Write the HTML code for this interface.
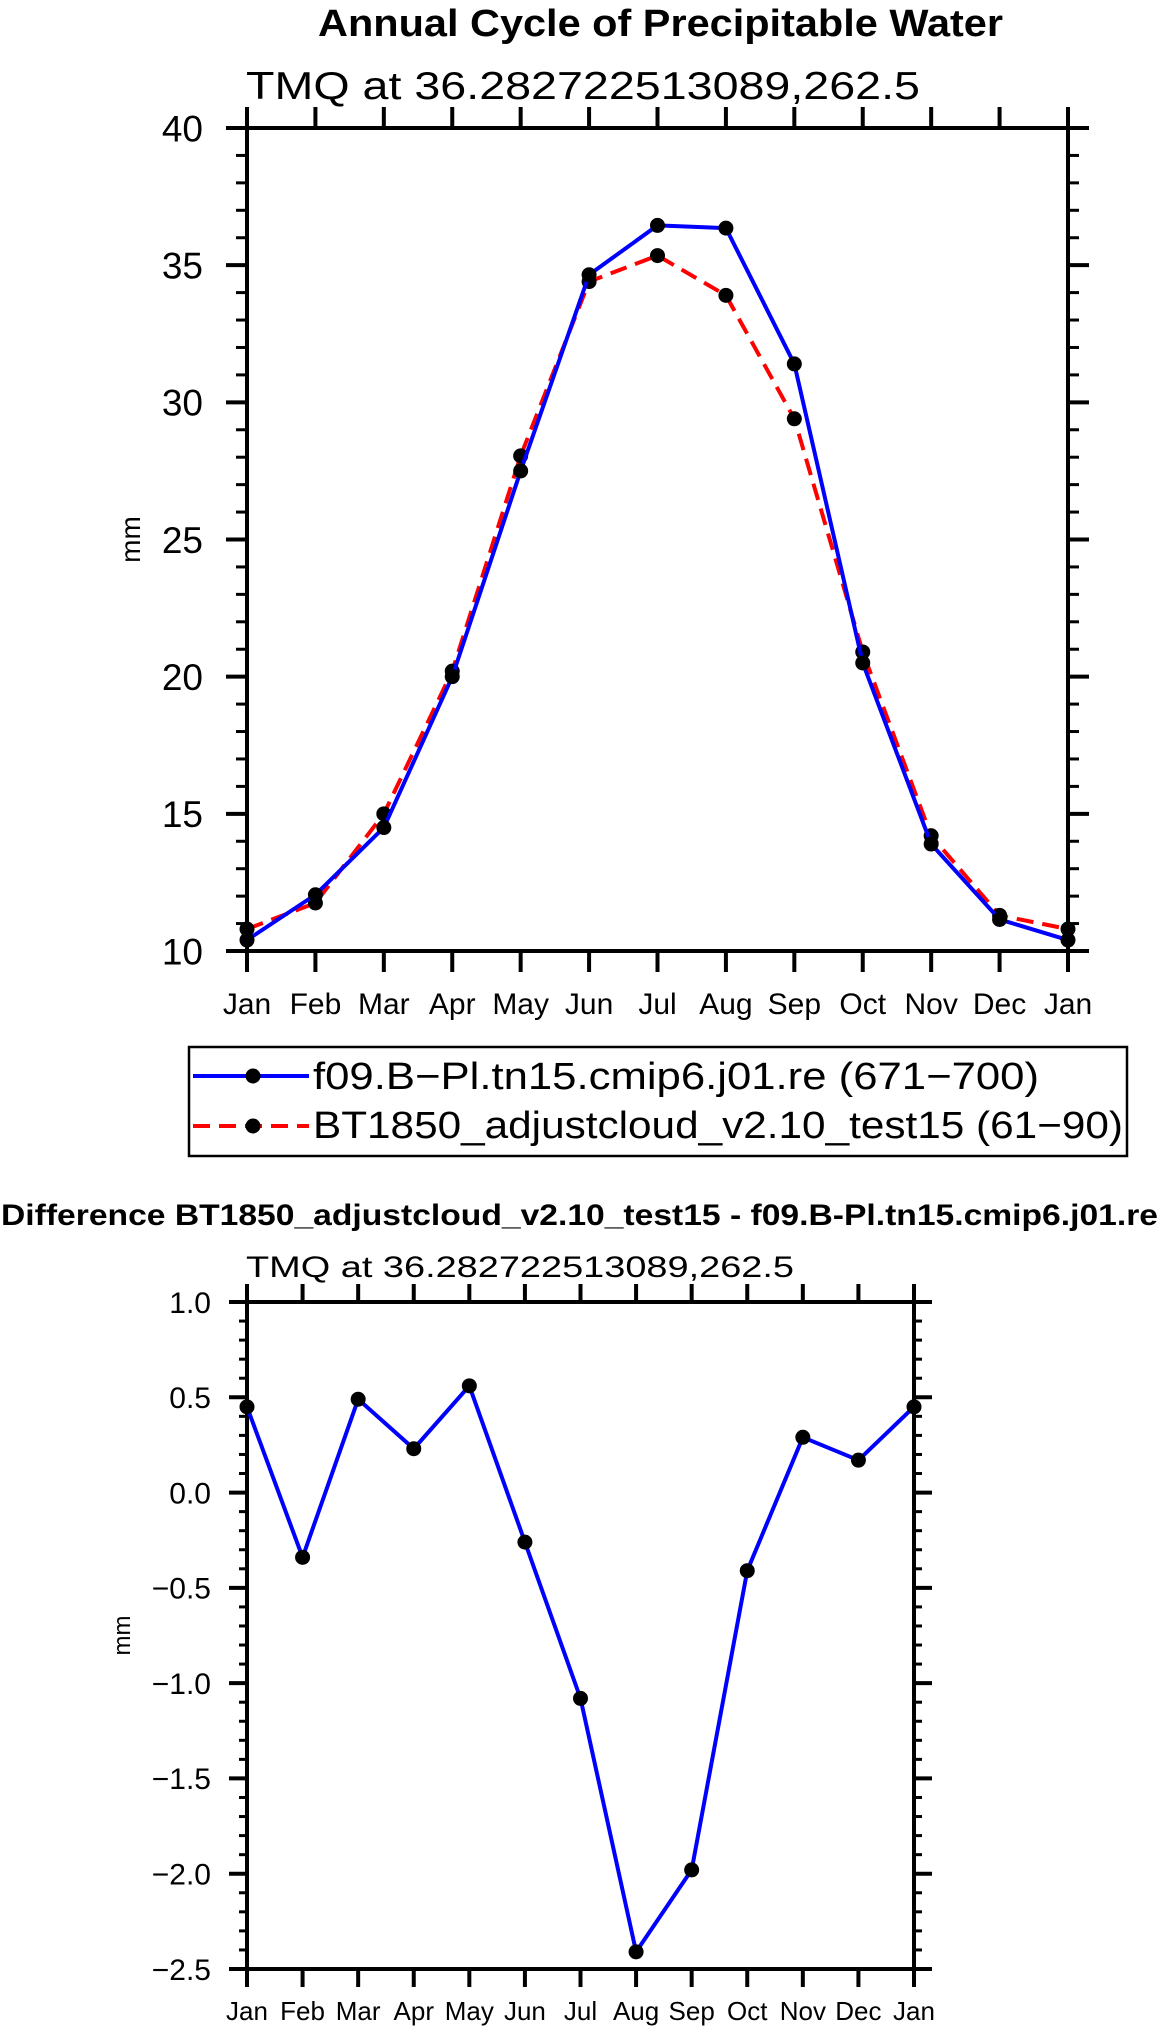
<!DOCTYPE html>
<html><head><meta charset="utf-8"><style>
html,body{margin:0;padding:0;background:#fff;}
svg{display:block;font-family:"Liberation Sans","DejaVu Sans",sans-serif;}
</style></head><body>
<svg id="fig" width="1161" height="2031" viewBox="0 0 1161 2031">
<text x="318" y="36" font-size="38" font-weight="bold" textLength="685" lengthAdjust="spacingAndGlyphs">Annual Cycle of Precipitable Water</text>
<text x="246" y="99" font-size="39" textLength="674" lengthAdjust="spacingAndGlyphs">TMQ  at  36.282722513089,262.5</text>
<text x="1" y="1225" font-size="30" font-weight="bold" textLength="1157" lengthAdjust="spacingAndGlyphs">Difference BT1850_adjustcloud_v2.10_test15 - f09.B-Pl.tn15.cmip6.j01.re</text>
<text x="246" y="1277" font-size="30" textLength="548" lengthAdjust="spacingAndGlyphs">TMQ  at  36.282722513089,262.5</text>
<g id="topchart"></g>
<g id="botchart"></g>
<g>
<rect x="189" y="1047" width="938" height="109" fill="none" stroke="#000" stroke-width="2.5"/>
<g>
<line x1="193" y1="1076" x2="309" y2="1076" stroke="#0000ff" stroke-width="4"/>
<circle cx="253" cy="1076" r="7.5" fill="#000"/>
<text x="313" y="1089" font-size="38" textLength="726" lengthAdjust="spacingAndGlyphs">f09.B−Pl.tn15.cmip6.j01.re (671−700)</text>
</g>
<g>
<line x1="193" y1="1126" x2="309" y2="1126" stroke="#ff0000" stroke-width="4" stroke-dasharray="17,9"/>
<circle cx="253" cy="1126" r="7.5" fill="#000"/>
<text x="313" y="1138" font-size="38" textLength="810" lengthAdjust="spacingAndGlyphs">BT1850_adjustcloud_v2.10_test15 (61−90)</text>
</g>
</g>
</svg>
<script>
const months = ["Jan","Feb","Mar","Apr","May","Jun","Jul","Aug","Sep","Oct","Nov","Dec","Jan"];
const ctrlValues = [10.4,12.05,14.5,20.0,27.5,34.65,36.45,36.35,31.4,20.5,13.9,11.15,10.4];
const testValues = [10.8,11.75,15.0,20.2,28.05,34.4,35.35,33.9,29.4,20.9,14.2,11.3,10.8];
const diffValues = [0.45,-0.34,0.49,0.23,0.56,-0.26,-1.08,-2.41,-1.98,-0.41,0.29,0.17,0.45];
const topYTicks = [10,15,20,25,30,35,40];
const topYLabels = ["10","15","20","25","30","35","40"];
const botYTicks = [-2.5,-2.0,-1.5,-1.0,-0.5,0.0,0.5,1.0];
const botYLabels = ["−2.5","−2.0","−1.5","−1.0","−0.5","0.0","0.5","1.0"];
const NS="http://www.w3.org/2000/svg";
function mk(parent,tag,attrs){const e=document.createElementNS(NS,tag);for(const k in attrs)e.setAttribute(k,attrs[k]);parent.appendChild(e);return e;}

function drawChart(g,cfg){
  const {x0,x1,y0,y1,ymin,ymax,minorStep,ticks,labels,majLen,minLen,tickFs,monFs,monY,labX,mmX,mmFs}=cfg;
  const sx=i=>x0+(x1-x0)*i/(months.length-1);
  const sy=v=>y1-(v-ymin)/(ymax-ymin)*(y1-y0);
  const nMin=Math.round((ymax-ymin)/minorStep);
  for(let k=0;k<=nMin;k++){const v=ymin+k*minorStep;const y=sy(v);
    const a=mk(g,'line',{x1:x0-minLen,y1:y,x2:x0,y2:y,stroke:'#000','stroke-width':3});
    
    
    const b=mk(g,'line',{x1:x1,y1:y,x2:x1+minLen,y2:y,stroke:'#000','stroke-width':3});
    
    
  }
  ticks.forEach((v,i)=>{const y=sy(v);
    const a=mk(g,'line',{x1:x0-majLen,y1:y,x2:x1+majLen,y2:y,stroke:'#000','stroke-width':4});
    
    
    const t=mk(g,'text',{x:labX,y:y+tickFs*0.36,'font-size':tickFs,'text-anchor':'end'});
    t.textContent=labels[i];
    
    
  });
  months.forEach((m,i)=>{const x=sx(i);
    const a=mk(g,'line',{x1:x,y1:y0-majLen,x2:x,y2:y1+majLen,stroke:'#000','stroke-width':4});
    
    
    const t=mk(g,'text',{x:x,y:monY,'font-size':monFs,'text-anchor':'middle'});
    t.textContent=m;
    
    
  });
  const bg=mk(g,'rect',{x:x0,y:y0,width:x1-x0,height:y1-y0,fill:'#fff',stroke:'#000','stroke-width':4});
  
  
  const my=(y0+y1)/2;
  const mm=mk(g,'text',{x:mmX,y:my,'font-size':mmFs,'text-anchor':'middle',transform:`rotate(-90 ${mmX} ${my})`});
  mm.textContent='mm';
  
  
  return {sx,sy};
}
function drawSeries(g,vals,sx,sy,color,dash,name){
  const pts=vals.map((v,i)=>sx(i)+','+sy(v)).join(' ');
  const p=mk(g,'polyline',{points:pts,fill:'none',stroke:color,'stroke-width':4,'stroke-dasharray':dash,'stroke-linejoin':'round'});
  
  
  vals.forEach((v,i)=>{const c=mk(g,'circle',{cx:sx(i),cy:sy(v),r:7.5,fill:'#000'});
    
    });
}
const topG=document.getElementById('topchart');
const A=drawChart(topG,{x0:247,x1:1068,y0:128,y1:951,ymin:10,ymax:40,minorStep:1,ticks:topYTicks,labels:topYLabels,majLen:21,minLen:11,tickFs:37,monFs:30,monY:1014,labX:203,mmX:140,mmFs:28});
drawSeries(topG,testValues,A.sx,A.sy,'#ff0000','17,9','test-series');
drawSeries(topG,ctrlValues,A.sx,A.sy,'#0000ff','none','control-series');
const botG=document.getElementById('botchart');
const B=drawChart(botG,{x0:247,x1:914,y0:1302,y1:1969,ymin:-2.5,ymax:1.0,minorStep:0.1,ticks:botYTicks,labels:botYLabels,majLen:18,minLen:8,tickFs:30,monFs:26,monY:2020,labX:211,mmX:130,mmFs:24});
drawSeries(botG,diffValues,B.sx,B.sy,'#0000ff','none','difference-series');
</script>
</body></html>
